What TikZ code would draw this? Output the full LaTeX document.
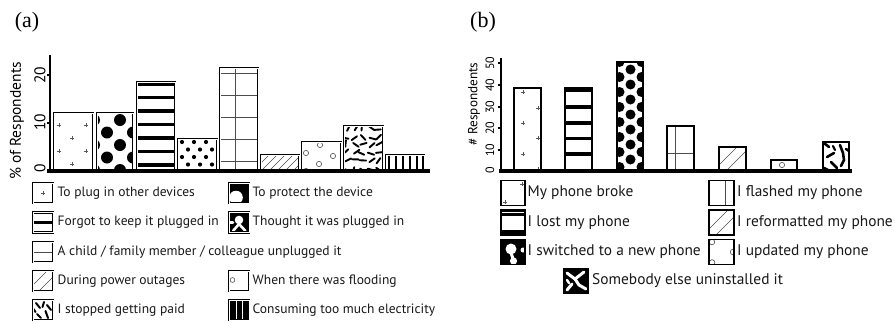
\documentclass[tikz,border=0pt]{standalone}
\usepackage{fontspec}
\setmainfont{Liberation Serif}
\newfontfamily\chartfont{PT Sans}
\usetikzlibrary{calc}
\tikzset{
  frameA/.style={draw=black, line width=0.85pt, double=white, double distance=0.55pt},
  frameB/.style={draw=black, line width=1.7pt},
  fineline/.style={draw=black!70, line width=0.6pt},
  plusline/.style={draw=black!65, line width=0.6pt},
  ringmark/.style={draw=black!70, line width=0.6pt},
  stroke/.style={draw=black, line width=2pt, line cap=round},
  wstroke/.style={draw=white, line width=2.6pt, line cap=round},
  legtext/.style={anchor=west, inner sep=0pt, text=black!90, font=\chartfont\fontsize{13.5}{15}\selectfont},
  legtextB/.style={anchor=west, inner sep=0pt, text=black!90, font=\chartfont\fontsize{15.4}{17}\selectfont},
  ticklabA/.style={rotate=90, inner sep=0pt, font=\chartfont\fontsize{15.5}{16}\selectfont},
  ticklabB/.style={rotate=90, inner sep=0pt, font=\chartfont\fontsize{12}{13}\selectfont},
  axlabA/.style={rotate=90, inner sep=0pt, font=\chartfont\fontsize{15.5}{17}\selectfont},
  axlabB/.style={rotate=90, inner sep=0pt, font=\chartfont\fontsize{13.2}{15}\selectfont},
  panel/.style={inner sep=0pt, font=\fontsize{22}{24}\selectfont},
}
\newcommand\plusat[2]{\draw[plusline] (#1,#2) +(-2.2,0) -- +(2.2,0) +(0,-2.2) -- +(0,2.2);}
\begin{document}
\begin{tikzpicture}[x=1pt,y=-1pt]
\useasboundingbox (0,0) rectangle (895,322);
\fill[white] (0,0) rectangle (895,322);

% ================= panel (a) =================
\node[panel] (pa) at (27,22) {(a)};

% bar 1: pluses
\begin{scope}
  \clip (54,113) rectangle (93,171);
  \foreach \y in {125,151} {\plusat{59}{\y}\plusat{86}{\y}}
  \foreach \y in {138,164} {\plusat{72}{\y}}
\end{scope}
\draw[frameA] (54,113) rectangle (93,171);

% bar 2: large dots
\begin{scope}
  \clip (97,113) rectangle (133,171);
  \foreach \y in {107.5,132.5,157.5} {\fill (107,\y) circle (6); \fill (133,\y) circle (6);}
  \foreach \y in {120,145,170} {\fill (94,\y) circle (6); \fill (120,\y) circle (6);}
\end{scope}
\draw[frameA] (97,113) rectangle (133,171);

% bar 3: thick horizontal bands
\begin{scope}
  \clip (137,82) rectangle (175,171);
  \foreach \y in {84,97.5,111,124.5,138,151.5,165} {\fill (137,\y-1.6) rectangle (175,\y+1.6);}
\end{scope}
\draw[frameA] (137,82) rectangle (175,171);

% bar 4: small dots
\begin{scope}
  \clip (178,139) rectangle (217,171);
  \foreach \y in {142,157} {\foreach \x in {182,194,...,218} {\fill (\x,\y) circle (2.1);}}
  \foreach \y in {149.5,164.5} {\foreach \x in {188,200,212} {\fill (\x,\y) circle (2.1);}}
\end{scope}
\draw[frameA] (178,139) rectangle (217,171);

% bar 5: thin grid
\begin{scope}
  \clip (220,68) rectangle (258,171);
  \draw[fineline] (235,68) -- (235,171);
  \foreach \y in {73,95,117,139,161} {\draw[fineline] (220,\y) -- (258,\y);}
\end{scope}
\draw[frameA] (220,68) rectangle (258,171);

% bar 6: diagonal hatch
\begin{scope}
  \clip (261,155) rectangle (299,171);
  \foreach \x in {237,245,...,301} {\draw[fineline] (\x,171) -- ++(18,-18);}
\end{scope}
\draw[frameA] (261,155) rectangle (299,171);

% bar 7: open rings
\begin{scope}
  \clip (302,142) rectangle (341,171);
  \foreach \p in {(320,145),(306,153),(333,156),(319,164),(306,171)} {\draw[ringmark] \p circle (2.6);}
\end{scope}
\draw[frameA] (302,142) rectangle (341,171);

% bar 8: scattered dashes
\begin{scope}
  \clip (344,126) rectangle (383,171);
  \pgfmathsetseed{17}
  \foreach \i in {0,...,4} {\foreach \j in {0,...,5} {
    \pgfmathsetmacro\cx{347+\i*8+rand*1.8}
    \pgfmathsetmacro\cy{129+\j*8+rand*1.8}
    \pgfmathsetmacro\an{rnd*180}
    \draw[stroke, line width=1.9pt] (\cx,\cy) +(\an:3.3) -- +(\an+180:3.3);
  }}
\end{scope}
\draw[frameA] (344,126) rectangle (383,171);

% bar 9: vertical bands
\begin{scope}
  \clip (386,155) rectangle (424,171);
  \foreach \x in {388.5,395.5,402.5,409.5,416.5,423} {\fill (\x-1,155) rectangle (\x+1,171);}
\end{scope}
\draw[frameA] (386,155) rectangle (424,171);

% axes (a)
\draw[line width=2pt] (50,55) -- (50,171);
\foreach \y in {75,123} {\draw[line width=1.3pt] (46.5,\y) -- (50,\y);}
\draw[line width=3.6pt] (47,171) -- (430,171);
\node[ticklabA] (ta20) at (40,75) {20};
\node[ticklabA] (ta10) at (40,122) {10};
\node[ticklabA] (ta0) at (40,168) {0};
\node[axlabA] (ya) at (17,121) {\% of Respondents};

% legend (a)
% row 1
\draw[frameA] (33,183) rectangle (53,203);
\plusat{43}{193}
\node[legtext] (la1) at (57.5,193) {To plug in other devices};
\begin{scope}
  \clip (229,183) rectangle (249,203);
  \fill (229,183) rectangle (249,203);
  \fill[white] (236,197.5) circle (6.8);
\end{scope}
\draw[frameA] (229,183) rectangle (249,203);
\node[legtext] (la2) at (252.5,193) {To protect the device};
% row 2
\fill (33,220.8) rectangle (53,224.2);
\draw[frameA] (33,212.5) rectangle (53,232.5);
\node[legtext] (la3) at (57.5,222.5) {Forgot to keep it plugged in};
\begin{scope}
  \clip (229,212.5) rectangle (249,232.5);
  \fill (229,212.5) rectangle (249,232.5);
  \fill[white] (239,220) circle (4.3);
  \draw[wstroke] (239,224) -- (233,231);
  \draw[wstroke] (239,224) -- (245.5,231);
  \draw[wstroke] (229,222.5) -- (233,222.5);
\end{scope}
\draw[frameA] (229,212.5) rectangle (249,232.5);
\node[legtext] (la4) at (252.5,222.5) {Thought it was plugged in};
% row 3
\draw[fineline] (33,252) -- (53,252);
\draw[frameA] (33,242) rectangle (53,262);
\node[legtext] (la5) at (57.5,252) {A child / family member / colleague unplugged it};
% row 4
\begin{scope}
  \clip (33,271) rectangle (53,291);
  \draw[fineline] (33,285) -- ++(14,-14);
  \draw[fineline] (39,291) -- ++(14,-14);
\end{scope}
\draw[frameA] (33,271) rectangle (53,291);
\node[legtext] (la6) at (57.5,281) {During power outages};
\begin{scope}
  \clip (229,271) rectangle (249,291);
  \draw[ringmark] (232.5,280) circle (2.4);
\end{scope}
\draw[frameA] (229,271) rectangle (249,291);
\node[legtext] (la7) at (252.5,281) {When there was flooding};
% row 5
\begin{scope}
  \clip (33,300) rectangle (53,320);
  \draw[stroke] (36,303) -- (40,308);
  \draw[stroke] (44,302) -- (42.5,307);
  \draw[stroke] (47,305) -- (51,310);
  \draw[stroke] (37,314) -- (41,318);
  \draw[stroke] (45.5,311) -- (48,318);
  \draw[stroke] (33.5,309) -- (35.5,312);
\end{scope}
\draw[frameA] (33,300) rectangle (53,320);
\node[legtext] (la8) at (57.5,310) {I stopped getting paid};
\begin{scope}
  \clip (229,300) rectangle (249,320);
  \fill (229,300) rectangle (249,320);
  \draw[white, line width=1pt] (236,300) -- (236,320) (242,300) -- (242,320);
\end{scope}
\draw[frameA] (229,300) rectangle (249,320);
\node[legtext] (la9) at (252.5,310) {Consuming too much electricity};

% ================= panel (b) =================
\node[panel] (pb) at (483,22) {(b)};

% bar 1: pluses
\begin{scope}
  \clip (514,88) rectangle (541,171);
  \foreach \y in {92,123,154} {\plusat{523}{\y}}
  \foreach \y in {108,138,169} {\plusat{538}{\y}}
\end{scope}
\draw[frameB] (514,88) rectangle (541,171);

% bar 2: thick horizontal bands
\begin{scope}
  \clip (565,88) rectangle (592,171);
  \foreach \y in {90,107,123,138.5,154} {\fill (565,\y-1.9) rectangle (592,\y+1.9);}
\end{scope}
\draw[frameB] (565,88) rectangle (592,171);

% bar 3: dense large dots
\begin{scope}
  \clip (617,62) rectangle (643,171);
  \foreach \y in {62,77,...,172} {\fill (619.5,\y) circle (5); \fill (641.5,\y) circle (5);}
  \foreach \y in {69.5,84.5,...,172} {\fill (630.5,\y) circle (5);}
\end{scope}
\draw[frameB] (617,62) rectangle (643,171);

% bar 4: thin grid
\begin{scope}
  \clip (667,126) rectangle (694,171);
  \draw[fineline] (675,126) -- (675,171);
  \draw[fineline] (667,153) -- (694,153);
\end{scope}
\draw[frameB] (667,126) rectangle (694,171);

% bar 5: diagonal hatch
\begin{scope}
  \clip (719,147) rectangle (746,171);
  \draw[fineline] (713,171) -- ++(24,-24);
  \draw[fineline] (726,171) -- ++(24,-24);
\end{scope}
\draw[frameB] (719,147) rectangle (746,171);

% bar 6: open ring
\draw[ringmark] (782,165) circle (2.6);
\draw[frameB] (771,160) rectangle (797,171);

% bar 7: blotches
\begin{scope}
  \clip (823,142) rectangle (849,171);
  \draw[stroke, line width=2.6pt] (824,143) -- (829,147);
  \draw[stroke, line width=2.6pt] (840,145) -- (843,153) -- (844,160) -- (841,166);
  \draw[stroke, line width=2.6pt] (827,157) -- (834,153);
  \draw[stroke, line width=2.6pt] (831,162) -- (837,168);
  \draw[stroke, line width=2.6pt] (846,149) -- (849,151);
  \draw[stroke, line width=2.6pt] (824,168) -- (828,170);
  \draw[stroke, line width=2.2pt] (833,146) -- (835,150);
\end{scope}
\draw[frameB] (823,142) rectangle (849,171);

% axes (b)
\draw[line width=2pt] (501,58) -- (501,171);
\foreach \y in {63,85,107,128,150} {\draw[line width=1.3pt] (497.5,\y) -- (501,\y);}
\draw[line width=3.6pt] (499,171) -- (852,171);
\node[ticklabB] (tb50) at (490,63) {50};
\node[ticklabB] (tb40) at (490,85) {40};
\node[ticklabB] (tb30) at (490,107) {30};
\node[ticklabB] (tb20) at (490,128) {20};
\node[ticklabB] (tb10) at (490,150) {10};
\node[ticklabB] (tb0) at (490,170) {0};
\node[axlabB] (yb) at (474,104) {\# Respondents};

% legend (b)
% row 1
\draw[frameB] (501,180.5) rectangle (525,205.5);
\plusat{505}{202}
\plusat{522}{184}
\node[legtextB] (lb1) at (527.5,193) {My phone broke};
\draw[fineline] (725,180.5) -- (725,205.5);
\draw[frameB] (709,180.5) rectangle (734,205.5);
\node[legtextB] (lb2) at (737,193) {I flashed my phone};
% row 2
\fill (501,210) rectangle (525,215.5);
\draw[white, line width=0.7pt] (501,212.3) -- (525,212.3);
\fill (501,229.5) rectangle (525,235);
\draw[frameB] (501,210) rectangle (525,235);
\node[legtextB] (lb3) at (527.5,222.5) {I lost my phone};
\begin{scope}
  \clip (709,210) rectangle (734,235);
  \draw[fineline] (707,231) -- ++(24,-24);
  \draw[fineline] (714,237) -- ++(24,-24);
\end{scope}
\draw[frameB] (709,210) rectangle (734,235);
\node[legtextB] (lb4) at (737,222.5) {I reformatted my phone};
% row 3
\begin{scope}
  \clip (501,239.5) rectangle (525,264.5);
  \fill (501,239.5) rectangle (525,264.5);
  \fill[white] (511,249) circle (5.5);
  \fill[white] (513.5,261) circle (3.6);
  \draw[wstroke, line width=3pt] (511,253) -- (513.5,260);
  \fill[white] (523,250) circle (2.5);
\end{scope}
\draw[frameB] (501,239.5) rectangle (525,264.5);
\node[legtextB] (lb5) at (527.5,252) {I switched to a new phone};
\begin{scope}
  \clip (709,239.5) rectangle (734,264.5);
  \draw[ringmark] (712,242) circle (2.8);
  \draw[ringmark] (733,252) circle (2.8);
  \draw[ringmark] (712,262.5) circle (2.8);
\end{scope}
\draw[frameB] (709,239.5) rectangle (734,264.5);
\node[legtextB] (lb6) at (737,252) {I updated my phone};
% row 4
\begin{scope}
  \clip (564,268.5) rectangle (588,293.5);
  \fill (564,268.5) rectangle (588,293.5);
  \draw[wstroke, line width=3pt] (567,273) -- (575,279) -- (584,272);
  \draw[wstroke, line width=3pt] (575,279) -- (579,285) -- (586,289);
  \draw[wstroke, line width=3pt] (567,290) -- (572,284);
  \draw[wstroke, line width=2.4pt] (567,280) -- (569,283);
\end{scope}
\draw[frameB] (564,268.5) rectangle (588,293.5);
\node[legtextB] (lb7) at (592,281) {Somebody else uninstalled it};
\end{tikzpicture}
\end{document}
